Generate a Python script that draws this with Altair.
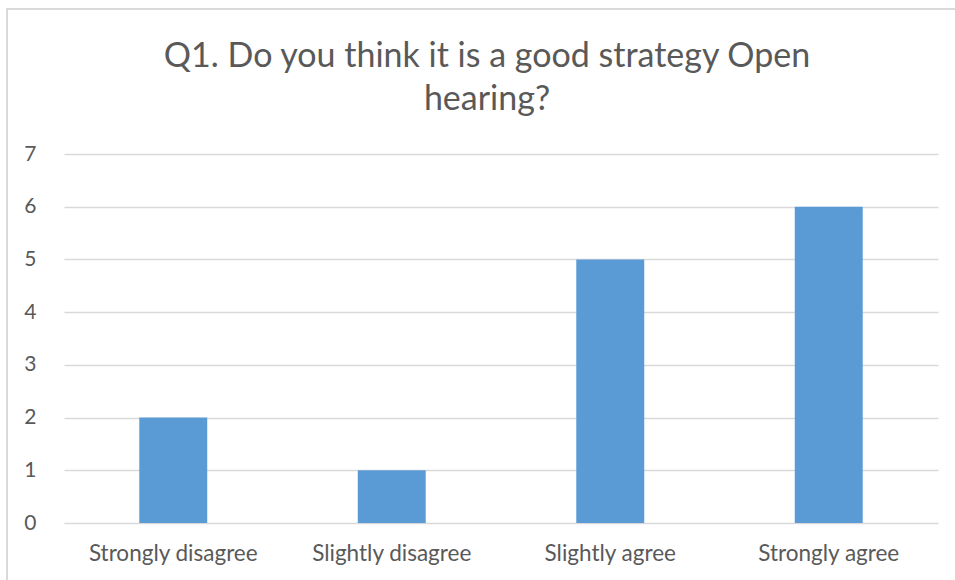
import altair as alt
import pandas as pd

categories = ["Strongly disagree", "Slightly disagree", "Slightly agree", "Strongly agree"]
counts = [2, 1, 5, 6]
y_ticks = [0, 1, 2, 3, 4, 5, 6, 7]
title_lines = ["Q1. Do you think it is a good strategy Open", "hearing?"]

df = pd.DataFrame({"category": categories, "count": counts})

FONT = "Lato"
TXT = "#595959"
GRID = "#D9D9D9"

bars = alt.Chart(df).mark_bar(color="#5B9BD5").encode(
    x=alt.X("category:N", sort=categories,
            scale=alt.Scale(paddingInner=0.689, paddingOuter=0.3445),
            axis=alt.Axis(title=None, labelAngle=0, domain=False, ticks=False,
                          labelPadding=19, labelFontSize=22.5, labelColor=TXT,
                          labelFont=FONT)),
    y=alt.Y("count:Q", scale=alt.Scale(domain=[0, 7], nice=False),
            axis=alt.Axis(title=None, values=y_ticks, domain=False, ticks=False,
                          grid=True, gridColor=GRID, gridWidth=1.3,
                          labelPadding=28, labelFontSize=21, labelColor=TXT,
                          labelFont=FONT)),
)

border = alt.Chart(df).mark_rect(fill=None, stroke=GRID, strokeWidth=1.5).encode(
    x=alt.value(-57), x2=alt.value(900), y=alt.value(-145), y2=alt.value(440)
)

chart = alt.layer(border, bars).properties(
    width=874, height=369,
    padding={"left": 64, "top": 154, "right": 17, "bottom": 57},
    autosize=alt.AutoSizeParams(type="none"),
    title=alt.TitleParams(text=title_lines, font=FONT, fontSize=34, fontWeight="normal",
                          color=TXT, anchor="middle", dx=-14, offset=-109,
                          lineHeight=43),
).configure_view(stroke=None)

chart.save("out.html", embed_options={"renderer": "svg", "actions": False})
